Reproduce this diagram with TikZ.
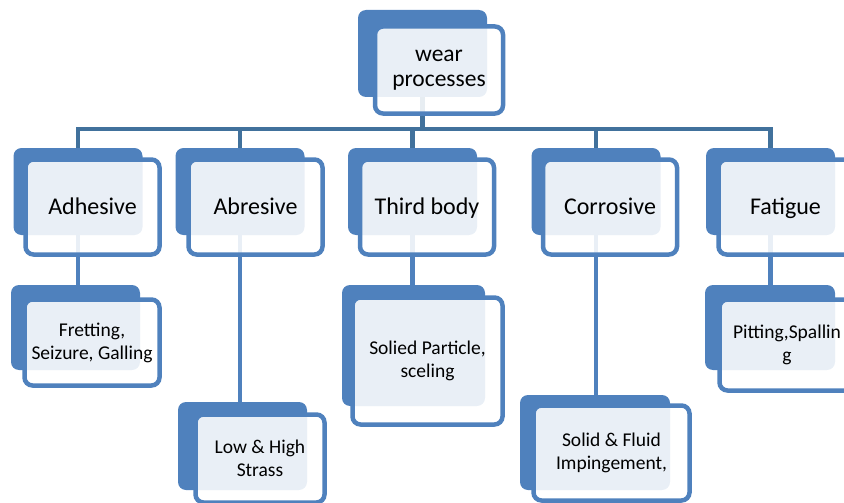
\documentclass[tikz,border=0pt]{standalone}
\usepackage{fontspec}
\setmainfont{Carlito}
\definecolor{smblue}{HTML}{4F81BD}
\definecolor{smbar}{HTML}{41719C}
\begin{document}
\begin{tikzpicture}[
    x=1pt, y=-1pt,
    back/.style={rectangle, fill=smblue, rounded corners=8pt, inner sep=0pt},
    front/.style={rectangle, draw=smblue, line width=4.5pt, fill=white, fill opacity=0.88, text opacity=1, rounded corners=8pt, align=center, inner sep=0pt},
    lvltwo/.style={front, minimum width=134pt, minimum height=95pt, text height=18pt, text depth=3pt, font=\fontsize{24}{26}\selectfont},
    lvlthree/.style={front, font=\fontsize{19.5}{23}\selectfont},
    bar/.style={draw=smbar, line width=4.5pt},
    link/.style={draw=smblue, line width=4.5pt}
]
\useasboundingbox (0,0) rectangle (844,503);
\clip (0,0) rectangle (844,503);

% Back panels
\node[back, minimum width=129pt, minimum height=87pt] (wearback) at (422.5,53.5) {};
\node[back, minimum width=129pt, minimum height=87pt] (adhback) at (78,191.5) {};
\node[back, minimum width=129pt, minimum height=87pt] (abrback) at (240,191.5) {};
\node[back, minimum width=129pt, minimum height=87pt] (thiback) at (412.5,191.5) {};
\node[back, minimum width=129pt, minimum height=87pt] (corback) at (596,191.5) {};
\node[back, minimum width=129pt, minimum height=87pt] (fatback) at (770.5,191.5) {};
\node[back, minimum width=129pt, minimum height=85pt] (fretback) at (75.5,327.5) {};
\node[back, minimum width=129pt, minimum height=88pt] (strback) at (242.5,446) {};
\node[back, minimum width=143pt, minimum height=121pt] (partback) at (413.5,345.5) {};
\node[back, minimum width=150pt, minimum height=95pt] (fluidback) at (595,442.5) {};
\node[back, minimum width=130pt, minimum height=85pt] (pitback) at (770,327.5) {};

% Tree lines
\draw[bar] (wearback.south) -- ++(0,32) coordinate (hub);
\foreach \n in {adhback,abrback,thiback,corback,fatback}
  \draw[bar] (hub) -| (\n.north);
\draw[link] (adhback.south) -- (adhback.south |- fretback.north);
\draw[link] (abrback.south) -- (abrback.south |- strback.north);
\draw[link] (thiback.south) -- (thiback.south |- partback.north);
\draw[link] (corback.south) -- (corback.south |- fluidback.north);
\draw[link] (fatback.south) -- (fatback.south |- pitback.north);

% Front panels
\node[front, minimum width=128pt, minimum height=87pt, font=\fontsize{23.5}{25}\selectfont] (wear) at (439,70) {wear\\processes};
\node[lvltwo] (adhesive) at (92.5,207) {Adhesive};
\node[lvltwo] (abresive) at (255.5,207) {Abresive};
\node[lvltwo] (thirdbody) at (427,207) {Third body};
\node[lvltwo] (corrosive) at (610,207) {Corrosive};
\node[lvltwo] (fatigue) at (785.5,207) {Fatigue};
\node[lvlthree, minimum width=135pt, minimum height=86pt] (fretting) at (92,342.5) {Fretting,\\Seizure, Galling};
\node[lvlthree, minimum width=129pt, minimum height=88pt] (strass) at (260,458.5) {Low \& High\\Strass};
\node[lvlthree, minimum width=150pt, minimum height=127pt] (particle) at (427.5,361) {Solied Particle,\\sceling};
\node[lvlthree, minimum width=156pt, minimum height=95pt] (fluid) at (611.5,453) {Solid \& Fluid\\Impingement,};
\node[lvlthree, minimum width=135pt, minimum height=91pt] (pitting) at (787,345) {Pitting,Spallin\\g};
\end{tikzpicture}
\end{document}
